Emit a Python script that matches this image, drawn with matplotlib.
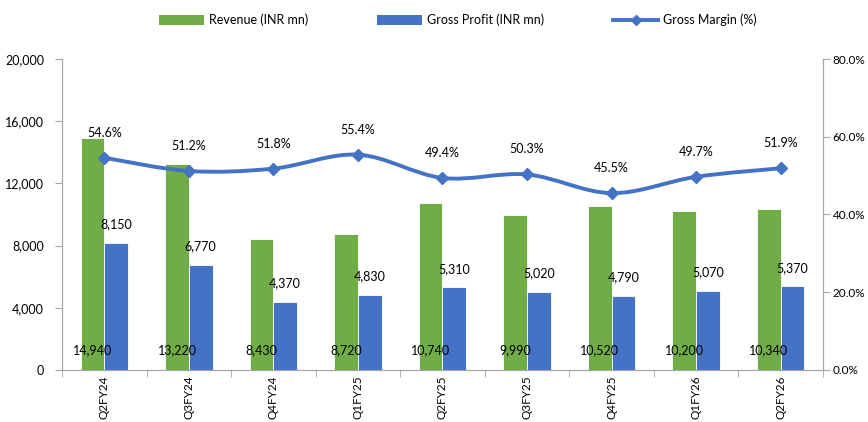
import matplotlib
matplotlib.use("Agg")
import matplotlib.pyplot as plt
from matplotlib.path import Path
from matplotlib.patches import PathPatch
from matplotlib.lines import Line2D
from matplotlib.patches import Patch
import numpy as np

categories = ["Q2FY24", "Q3FY24", "Q4FY24", "Q1FY25", "Q2FY25", "Q3FY25", "Q4FY25", "Q1FY26", "Q2FY26"]
revenue = [14940, 13220, 8430, 8720, 10740, 9990, 10520, 10200, 10340]
gross_profit = [8150, 6770, 4370, 4830, 5310, 5020, 4790, 5070, 5370]
gross_margin = [54.6, 51.2, 51.8, 55.4, 49.4, 50.3, 45.5, 49.7, 51.9]

plt.rcParams['font.family'] = ['Lato', 'DejaVu Sans']
GREEN = "#70AD47"
BLUE = "#4472C4"
GRAY = "#A6A6A6"

fig = plt.figure(figsize=(8.68, 4.22), dpi=100)
ax = fig.add_axes([62/868, 1-370/422, (823-62)/868, (370-59)/422])
ax2 = ax.twinx()

x = np.arange(len(categories))
w = 0.28
ax.bar(x - w/2, revenue, w, color=GREEN, edgecolor="white", linewidth=0.6, zorder=2)
ax.bar(x + w/2, gross_profit, w, color=BLUE, edgecolor="white", linewidth=0.6, zorder=2)

ax.set_xlim(-0.5, len(categories) - 0.5)
ax.set_ylim(0, 20000)
ax.set_yticks(range(0, 20001, 4000))
ax.set_yticklabels([f"{v:,}" for v in range(0, 20001, 4000)], fontsize=9)
ax.set_xticks(x)
ax.set_xticklabels(categories, rotation=90, fontsize=8.5)
ax.tick_params(axis='x', length=0, pad=4)
ax.set_xticks(np.arange(-0.5, len(categories), 1), minor=True)
ax.tick_params(axis='x', which='minor', length=5, color=GRAY)
ax.tick_params(axis='y', length=5, color=GRAY, pad=8)

for s in ["top"]:
    ax.spines[s].set_visible(False)
    ax2.spines[s].set_visible(False)
for s in ["left", "bottom", "right"]:
    ax.spines[s].set_color(GRAY)
    ax2.spines[s].set_color(GRAY)

ax2.set_ylim(0, 80)
ax2.set_yticks(range(0, 81, 20))
ax2.set_yticklabels([f"{v:.1f}%" for v in range(0, 81, 20)], fontsize=8.5)
ax2.tick_params(axis='y', length=5, color=GRAY, pad=2)

# smoothed line (Catmull-Rom Bezier, Excel-style)
pts = np.column_stack([x, gross_margin]).astype(float)
verts = [tuple(pts[0])]
codes = [Path.MOVETO]
n = len(pts)
for i in range(n - 1):
    p0 = pts[i - 1] if i > 0 else pts[i]
    p1 = pts[i]
    p2 = pts[i + 1]
    p3 = pts[i + 2] if i + 2 < n else pts[i + 1]
    c1 = p1 + (p2 - p0) / 6
    c2 = p2 - (p3 - p1) / 6
    verts += [tuple(c1), tuple(c2), tuple(p2)]
    codes += [Path.CURVE4] * 3
ax2.add_patch(PathPatch(Path(verts, codes), facecolor="none", edgecolor=BLUE, linewidth=2.8, zorder=3,
                        capstyle="round"))
ax2.plot(x, gross_margin, linestyle="none", marker="D", markersize=6.5, color=BLUE, zorder=4)

for i in range(n):
    ax.annotate(f"{revenue[i]:,}", (x[i] - w/2, 0), xytext=(0, 14.5), textcoords="offset points",
                ha="center", va="center", fontsize=9, zorder=5)
    ax.annotate(f"{gross_profit[i]:,}", (x[i] + w/2, gross_profit[i]), xytext=(0, 13.5),
                textcoords="offset points", ha="center", va="center", fontsize=9, zorder=5)
    ax2.annotate(f"{gross_margin[i]:.1f}%", (x[i], gross_margin[i]), xytext=(0, 18),
                 textcoords="offset points", ha="center", va="center", fontsize=9, zorder=5)

handles = [Patch(facecolor=GREEN, label="Revenue (INR mn)"),
           Patch(facecolor=BLUE, label="Gross Profit (INR mn)"),
           Line2D([0], [0], color=BLUE, lw=2.8, marker="D", markersize=5, label="Gross Margin (%)")]
fig.legend(handles=handles, loc="center", bbox_to_anchor=(458/868, 1-20/422), ncol=3, frameon=False,
           fontsize=9, handlelength=3.6, handleheight=0.8, columnspacing=5.5, handletextpad=0.4)

fig.savefig("out.png", dpi=100)
